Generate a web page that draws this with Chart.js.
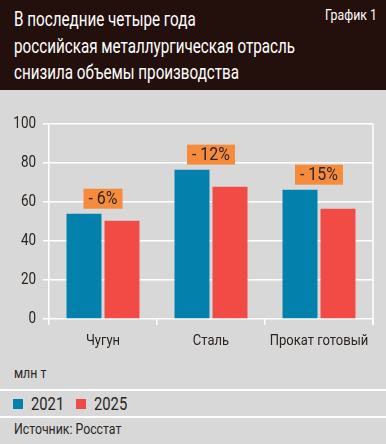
<!DOCTYPE html>
<html>
<head>
<meta charset="utf-8">
<script src="https://cdn.jsdelivr.net/npm/chart.js@4"></script>
<style>
  body { margin: 0; background: #d8d8d8; }
  #wrap { position: relative; width: 386px; height: 444px; background: #d8d8d8; overflow: hidden;
          font-family: Roboto, sans-serif; color: #2b2420; }
  .c { display: inline-block; white-space: nowrap; transform-origin: 0 50%; transform: scaleX(0.82); }
  #head { position: absolute; left: 0; top: 0; width: 386px; height: 90px; background: #230f0b; }
  #title { position: absolute; left: 14px; top: 7px; color: #fff; font-size: 19.5px; line-height: 26.5px; }
  #title .c { display: block; transform: scaleX(0.78); }
  #num { position: absolute; left: 325px; top: 6px; color: #fff; font-size: 15px; }
  #box { position: absolute; left: 0; top: 90px; width: 386px; height: 270px; }
  #unit { position: absolute; left: 14px; top: 364px; font-size: 15px; }
  .sep { position: absolute; left: 0; width: 386px; height: 2px; background: #fff; }
  #legend { position: absolute; left: 13px; top: 393px; font-size: 18px; }
  #legend .sw { position: absolute; top: 6px; width: 10px; height: 10px; }
  #legend .t { position: absolute; top: 0; }
  #src { position: absolute; left: 14px; top: 420px; font-size: 15px; }
</style>
</head>
<body>
<div id="wrap">
  <div id="head">
    <div id="title"><span class="c">В последние четыре года</span><span class="c">российская металлургическая отрасль</span><span class="c">снизила объемы производства</span></div>
    <div id="num"><span class="c">График 1</span></div>
  </div>
  <div id="box"><canvas id="chart"></canvas></div>
  <div id="unit"><span class="c">млн т</span></div>
  <div class="sep" style="top:389px"></div>
  <div id="legend"></div>
  <div class="sep" style="top:416px"></div>
  <div id="src"><span class="c">Источник: Росстат</span></div>
</div>
<script>
const categories = ['Чугун', 'Сталь', 'Прокат готовый'];
const seriesNames = ['2021', '2025'];
const values2021 = [54.0, 76.6, 66.3];
const values2025 = [50.4, 67.8, 56.6];
const changeLabels = ['- 6%', '- 12%', '- 15%'];
const yTicks = [0, 20, 40, 60, 80, 100];

const FONT = 'Roboto, sans-serif';
const blue = '#0380ab';
const red = '#f24a45';
const ink = '#2b2420';
const SQ = 0.84; // horizontal squeeze to mimic the condensed face

// legend in html
const legendEl = document.getElementById('legend');
[blue, red].forEach((c, i) => {
  const sw = document.createElement('span');
  sw.className = 'sw';
  sw.style.background = c;
  sw.style.left = (i * 63) + 'px';
  legendEl.appendChild(sw);
  const t = document.createElement('span');
  t.className = 't c';
  t.style.left = (i * 63 + 18) + 'px';
  t.textContent = seriesNames[i];
  legendEl.appendChild(t);
});

function squeezeText(ctx, text, x, y, align) {
  ctx.save();
  ctx.translate(x, y);
  ctx.scale(SQ, 1);
  ctx.textAlign = align;
  ctx.fillText(text, 0, 0);
  ctx.restore();
}

// tick labels, orange change boxes, right border
const extras = {
  id: 'extras',
  afterDatasetsDraw(chart) {
    const ctx = chart.ctx;
    const a = chart.chartArea;
    const x = chart.scales.x, y = chart.scales.y;
    ctx.save();
    ctx.strokeStyle = '#fff';
    ctx.lineWidth = 1.5;
    ctx.beginPath();
    ctx.moveTo(a.right, y.getPixelForValue(100));
    ctx.lineTo(a.right, a.bottom + 6);
    ctx.stroke();

    ctx.fillStyle = ink;
    ctx.textBaseline = 'middle';
    ctx.font = '16px ' + FONT;
    yTicks.forEach(v => squeezeText(ctx, String(v), 36, y.getPixelForValue(v), 'right'));
    ctx.font = '15.5px ' + FONT;
    categories.forEach((c, i) => squeezeText(ctx, c, x.getPixelForValue(i), a.bottom + 22, 'center'));

    ctx.font = '19px ' + FONT;
    categories.forEach((c, i) => {
      const cx = x.getPixelForValue(i);
      const top = y.getPixelForValue(values2021[i]);
      const w = ctx.measureText(changeLabels[i]).width * SQ + 10;
      const h = 20;
      ctx.fillStyle = '#f68b3c';
      ctx.fillRect(cx - w / 2, top - 5 - h, w, h);
      ctx.fillStyle = ink;
      squeezeText(ctx, changeLabels[i], cx, top - 5 - h / 2 + 1, 'center');
    });
    ctx.restore();
  }
};

new Chart(document.getElementById('chart'), {
  type: 'bar',
  data: {
    labels: categories,
    datasets: [
      { label: seriesNames[0], data: values2021, backgroundColor: blue },
      { label: seriesNames[1], data: values2025, backgroundColor: red }
    ]
  },
  options: {
    responsive: true,
    maintainAspectRatio: false,
    animation: false,
    layout: { padding: { top: 34, right: 13, left: 0, bottom: 0 } },
    datasets: { bar: { categoryPercentage: 0.704, barPercentage: 0.92 } },
    plugins: { legend: { display: false }, tooltip: { enabled: false } },
    scales: {
      x: {
        grid: { offset: true, drawOnChartArea: false, color: '#fff', lineWidth: 1.5, tickLength: 6 },
        border: { display: false },
        ticks: { display: false },
        afterFit(s) { s.height = 41; }
      },
      y: {
        min: 0, max: 100,
        afterBuildTicks(s) { s.ticks = yTicks.map(v => ({ value: v })); },
        grid: { color: '#fff', lineWidth: 1.5, tickLength: 6 },
        border: { color: '#fff', width: 1.5 },
        ticks: { display: false },
        afterFit(s) { s.width = 49; }
      }
    }
  },
  plugins: [extras]
});
</script>
</body>
</html>
